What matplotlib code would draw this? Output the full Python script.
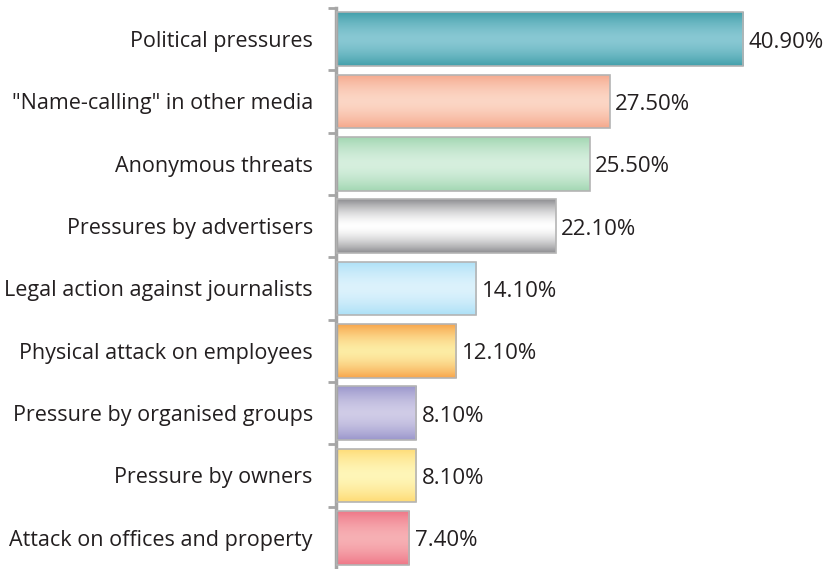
import numpy as np
import matplotlib.pyplot as plt
from matplotlib.colors import to_rgb

categories = [
    "Political pressures",
    "\"Name-calling\" in other media",
    "Anonymous threats",
    "Pressures by advertisers",
    "Legal action against journalists",
    "Physical attack on employees",
    "Pressure by organised groups",
    "Pressure by owners",
    "Attack on offices and property",
]
values = [40.9, 27.5, 25.5, 22.1, 14.1, 12.1, 8.1, 8.1, 7.4]
value_labels = ["40.90%", "27.50%", "25.50%", "22.10%", "14.10%", "12.10%", "8.10%", "8.10%", "7.40%"]

# (edge colour, middle colour) for the shaded bars
edge_colors = ["#43a0ab", "#f5a88c", "#a3d7b3", "#8f8f92", "#ade0f7", "#f8a64c", "#9b97cc", "#fedb75", "#ef7888"]
mid_colors = ["#88c8d3", "#fcd6c5", "#d6efde", "#ffffff", "#dcf2fc", "#fdeca4", "#d0cce7", "#fff6b8", "#f7b0b4"]

plt.rcParams['font.family'] = ['Open Sans', 'DejaVu Sans']

fig = plt.figure(figsize=(8.27, 5.69), dpi=100)
ax = fig.add_axes([0.406, 0.0, 0.594, 0.986])

pos = np.arange(len(categories))
bars = ax.barh(pos, values, height=0.86, facecolor="none", edgecolor="#b4b4b4", linewidth=1.2, zorder=3)

t = np.linspace(0, 1, 64)
for bar, c0, c1 in zip(bars, edge_colors, mid_colors):
    a, b = np.array(to_rgb(c0)), np.array(to_rgb(c1))
    w = 1 - np.abs(2 * t - 1) ** 1.6
    grad = a[None, :] * (1 - w[:, None]) + b[None, :] * w[:, None]
    x0, y0 = bar.get_x(), bar.get_y()
    im = ax.imshow(grad[:, None, :], extent=(x0, x0 + bar.get_width(), y0, y0 + bar.get_height()),
                   aspect="auto", origin="lower", interpolation="bilinear", zorder=2)
    im.set_clip_path(bar)

for v, lab, p in zip(values, value_labels, pos):
    ax.text(v + 0.55, p + 0.05, lab, va="center", ha="left", fontsize=16, color="#231f20")

ax.set_xlim(0, 49.35)
ax.set_ylim(len(categories) - 0.5, -0.5)

ax.set_yticks(pos)
ax.set_yticklabels(categories, fontsize=15.5, color="#231f20")
ax.tick_params(axis="y", which="major", length=0, pad=16.5)
ax.set_yticks(np.arange(-0.5, len(categories) - 0.5, 1), minor=True)
ax.tick_params(axis="y", which="minor", length=6, width=2, color="#a6a6a6", direction="out")
ax.set_xticks([])

for s in ["top", "right", "bottom"]:
    ax.spines[s].set_visible(False)
ax.spines["left"].set_color("#a6a6a6")
ax.spines["left"].set_linewidth(2.5)

fig.savefig("out.png", dpi=100)
